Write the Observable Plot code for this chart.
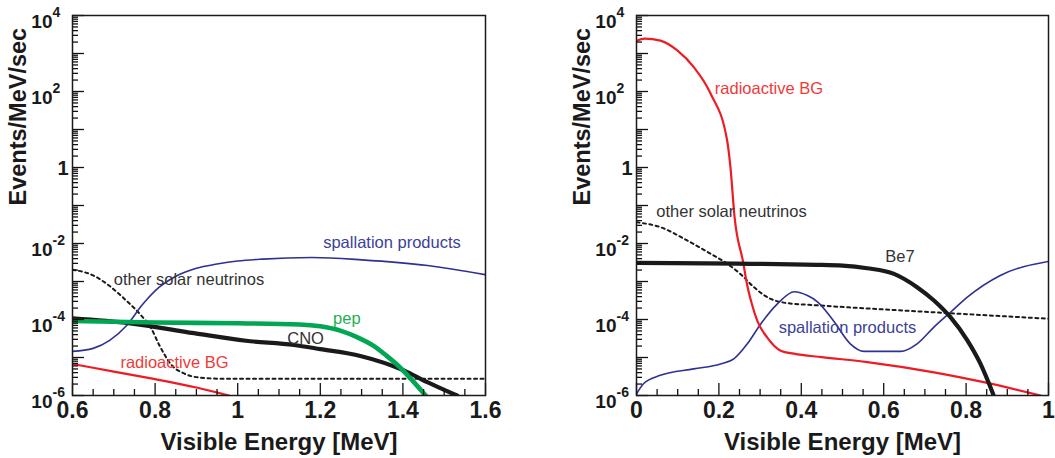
<!DOCTYPE html>
<html><head><meta charset="utf-8">
<script src="https://cdn.jsdelivr.net/npm/d3@7"></script>
<script src="https://cdn.jsdelivr.net/npm/@observablehq/plot@0.6"></script>
<style>
body{margin:0;background:#fff;}
#wrap{position:relative;width:1055px;height:458px;overflow:hidden;background:#fff;}
#left,#right{position:absolute;top:0;}
#left{left:0;}
#right{left:527px;}
svg{font-family:"Liberation Sans",Arial,Helvetica,sans-serif;}
</style></head><body>
<div id="wrap"><div id="left"></div><div id="right"></div></div>
<script>
// ---------- data (values are log10 of Events/MeV/sec) ----------
// Left panel (0.6 - 1.6 MeV)
const L_spall_x   = [0.6, 0.65, 0.69, 0.73, 0.77, 0.81, 0.85, 0.9, 0.95, 1.0, 1.06, 1.18, 1.3, 1.46, 1.6];
const L_spall_log = [-4.84, -4.76, -4.55, -4.17, -3.6, -3.15, -2.86, -2.65, -2.54, -2.46, -2.41, -2.37, -2.43, -2.58, -2.82];
const L_other_x   = [0.6, 0.65, 0.69, 0.73, 0.765, 0.79, 0.81, 0.84, 0.87, 0.91, 0.97, 1.6];
const L_other_log = [-2.69, -2.84, -3.12, -3.5, -3.88, -4.22, -4.67, -5.2, -5.42, -5.53, -5.56, -5.56];
const L_pep_x     = [0.6, 0.8, 1.0, 1.15, 1.2, 1.25, 1.29, 1.33, 1.36, 1.39, 1.42, 1.455];
const L_pep_log   = [-4.04, -4.08, -4.1, -4.13, -4.18, -4.3, -4.47, -4.7, -4.95, -5.23, -5.57, -6.0];
const L_cno_x     = [0.6, 0.74, 0.894, 1.02, 1.136, 1.2, 1.297, 1.402, 1.459, 1.5, 1.531];
const L_cno_log   = [-3.97, -4.1, -4.36, -4.56, -4.67, -4.78, -4.96, -5.34, -5.65, -5.85, -6.0];
const L_red_x     = [0.6, 0.7, 0.8, 0.9, 0.979];
const L_red_log   = [-5.17, -5.37, -5.57, -5.79, -6.0];

// Right panel (0 - 1 MeV)
const R_red_x     = [0.0, 0.02, 0.058, 0.099, 0.139, 0.18, 0.22, 0.228, 0.238, 0.259, 0.268, 0.28, 0.293, 0.317, 0.35, 0.382, 0.45, 0.56, 0.722, 0.843, 0.981];
const R_red_log   = [3.33, 3.39, 3.34, 3.08, 2.64, 1.94, 0.71, 0.01, -1.3, -2.5, -3.06, -3.59, -4.03, -4.47, -4.82, -4.9, -4.99, -5.12, -5.39, -5.65, -6.0];
const R_other_x   = [0.0, 0.058, 0.123, 0.18, 0.22, 0.252, 0.285, 0.317, 0.366, 0.43, 0.722, 1.0];
const R_other_log = [-1.44, -1.57, -1.92, -2.27, -2.53, -2.8, -3.15, -3.41, -3.57, -3.62, -3.81, -3.98];
const R_be7_x     = [0.0, 0.438, 0.5, 0.56, 0.625, 0.681, 0.722, 0.762, 0.803, 0.835, 0.867];
const R_be7_log   = [-2.51, -2.56, -2.58, -2.65, -2.8, -3.15, -3.5, -3.94, -4.55, -5.17, -6.0];
const R_spall_x   = [0.0, 0.017, 0.058, 0.139, 0.204, 0.237, 0.269, 0.302, 0.342, 0.383, 0.415, 0.44, 0.478, 0.519, 0.552, 0.641, 0.681, 0.722, 0.762, 0.803, 0.883, 1.0];
const R_spall_log = [-5.96, -5.69, -5.47, -5.3, -5.17, -5.03, -4.64, -4.11, -3.59, -3.27, -3.37, -3.54, -4.03, -4.64, -4.84, -4.84, -4.64, -4.2, -3.81, -3.41, -2.84, -2.47];

// tick values and labels
const yDecades      = [1e-6, 1e-5, 1e-4, 1e-3, 1e-2, 1e-1, 1, 1e1, 1e2, 1e3, 1e4];
const yLabelValues  = [1e-6, 1e-4, 1e-2, 1e2, 1e4];
const yLabelExps    = ["-6", "-4", "-2", "2", "4"];
const L_xMajor      = [0.6, 0.8, 1.0, 1.2, 1.4, 1.6];
const L_xLabels     = ["0.6", "0.8", "1", "1.2", "1.4", "1.6"];
const L_xMinor      = [0.65, 0.7, 0.75, 0.85, 0.9, 0.95, 1.05, 1.1, 1.15, 1.25, 1.3, 1.35, 1.45, 1.5, 1.55];
const R_xMajor      = [0, 0.2, 0.4, 0.6, 0.8, 1.0];
const R_xLabels     = ["0", "0.2", "0.4", "0.6", "0.8", "1"];
const R_xMinor      = [0.05, 0.1, 0.15, 0.25, 0.3, 0.35, 0.45, 0.5, 0.55, 0.65, 0.7, 0.75, 0.85, 0.9, 0.95];

// inline labels
const L_labels = [
  {x: 1.207, y: 0.0108,  text: "spallation products",   c: "#3b4199"},
  {x: 0.70,  y: 1.13e-3, text: "other solar neutrinos", c: "#333333"},
  {x: 1.231, y: 1.06e-4, text: "pep",                   c: "#1fae55"},
  {x: 1.12,  y: 3.1e-5,  text: "CNO",                   c: "#333333"},
  {x: 0.716, y: 7.5e-6,  text: "radioactive BG",        c: "#ef3a3a"}
];
const R_labels = [
  {x: 0.19,  y: 120,     text: "radioactive BG",        c: "#ef3a3a"},
  {x: 0.048, y: 0.0667,  text: "other solar neutrinos", c: "#333333"},
  {x: 0.604, y: 4.37e-3, text: "Be7",                   c: "#333333"},
  {x: 0.345, y: 6.0e-5,  text: "spallation products",   c: "#3b4199"}
];

const COL = {blue: "#2e3192", red: "#ed1c24", green: "#00a651", black: "#1a1a1a"};

function series(xs, logs) { return xs.map((x, i) => ({x, y: Math.pow(10, logs[i])})); }

const yMinor = [];
for (const d of yDecades.slice(0, -1)) for (let k = 2; k <= 9; k++) yMinor.push(d * k);

function panel(o) {
  const H = 458, MT = 15, MB = 63;
  const ph = H - MT - MB;
  const pw = o.width - o.marginLeft - o.marginRight;
  const lineOpts = (stroke, w, extra = {}) => ({x: "x", y: "y", stroke, strokeWidth: w, curve: "monotone-x", clip: true, ...extra});
  const font = {fontWeight: "bold", fill: "#1a1a1a"};
  const tk = {stroke: "#111111", strokeWidth: 1.3};
  return Plot.plot({
    width: o.width, height: H,
    marginLeft: o.marginLeft, marginRight: o.marginRight, marginTop: MT, marginBottom: MB,
    style: {background: "white", fontFamily: '"Liberation Sans", Arial, Helvetica, sans-serif'},
    x: {domain: o.xDomain, label: null, axis: null},
    y: {type: "log", domain: [1e-6, 1e4], label: null, axis: null},
    marks: [
      ...o.lines.map(l => Plot.line(series(l.x, l.log), lineOpts(l.stroke, l.w, l.extra || {}))),
      // inward ticks
      Plot.ruleX(o.xMajor, {x: d => d, insetTop: ph - 12, ...tk}),
      Plot.ruleX(o.xMinor, {x: d => d, insetTop: ph - 6, ...tk}),
      Plot.ruleY(yDecades, {y: d => d, insetRight: pw - 12, ...tk}),
      Plot.ruleY(yMinor, {y: d => d, insetRight: pw - 6, ...tk}),
      Plot.frame({stroke: "#1a1a1a", strokeWidth: 1.5}),
      // tick labels
      Plot.text(o.xMajor, {x: d => d, text: (d, i) => o.xLabels[i], frameAnchor: "bottom", dy: 15, fontSize: 23, lineAnchor: "middle", ...font}),
      Plot.text(yLabelValues, {y: d => d, text: () => "10", frameAnchor: "left", dx: -20, dy: 6, textAnchor: "end", fontSize: 19, lineAnchor: "middle", ...font}),
      Plot.text(yLabelValues, {y: d => d, text: (d, i) => yLabelExps[i], frameAnchor: "left", dx: -20, dy: -3, textAnchor: "start", fontSize: 14, lineAnchor: "middle", ...font}),
      Plot.text([1], {y: d => d, text: () => "1", frameAnchor: "left", dx: -4, dy: 1, textAnchor: "end", fontSize: 20, lineAnchor: "middle", ...font}),
      // axis titles
      Plot.text(["Visible Energy [MeV]"], {text: d => d, frameAnchor: "bottom", dy: 47, fontSize: 24, lineAnchor: "middle", ...font}),
      Plot.text(["Events/MeV/sec"], {text: d => d, frameAnchor: "left", dx: -54, rotate: -90, fontSize: 23.5, lineAnchor: "middle", ...font}),
      // inline labels
      Plot.text(o.labels, {x: "x", y: "y", text: "text", fill: "c", textAnchor: "start", lineAnchor: "middle", fontSize: 16.5})
    ]
  });
}

const left = panel({
  width: 527, marginLeft: 72, marginRight: 42, xDomain: [0.6, 1.6],
  xMajor: L_xMajor, xLabels: L_xLabels, xMinor: L_xMinor, labels: L_labels,
  lines: [
    {x: L_red_x, log: L_red_log, stroke: COL.red, w: 2.2},
    {x: L_other_x, log: L_other_log, stroke: COL.black, w: 2, extra: {strokeDasharray: "3,3.5"}},
    {x: L_spall_x, log: L_spall_log, stroke: COL.blue, w: 1.6},
    {x: L_cno_x, log: L_cno_log, stroke: COL.black, w: 4.2},
    {x: L_pep_x, log: L_pep_log, stroke: COL.green, w: 4.6}
  ]
});
const right = panel({
  width: 528, marginLeft: 109, marginRight: 7, xDomain: [0, 1],
  xMajor: R_xMajor, xLabels: R_xLabels, xMinor: R_xMinor, labels: R_labels,
  lines: [
    {x: R_other_x, log: R_other_log, stroke: COL.black, w: 2, extra: {strokeDasharray: "3,3.5"}},
    {x: R_spall_x, log: R_spall_log, stroke: COL.blue, w: 1.6},
    {x: R_red_x, log: R_red_log, stroke: COL.red, w: 2.2},
    {x: R_be7_x, log: R_be7_log, stroke: COL.black, w: 4.2}
  ]
});
document.getElementById("left").appendChild(left);
document.getElementById("right").appendChild(right);
</script>
</body></html>
